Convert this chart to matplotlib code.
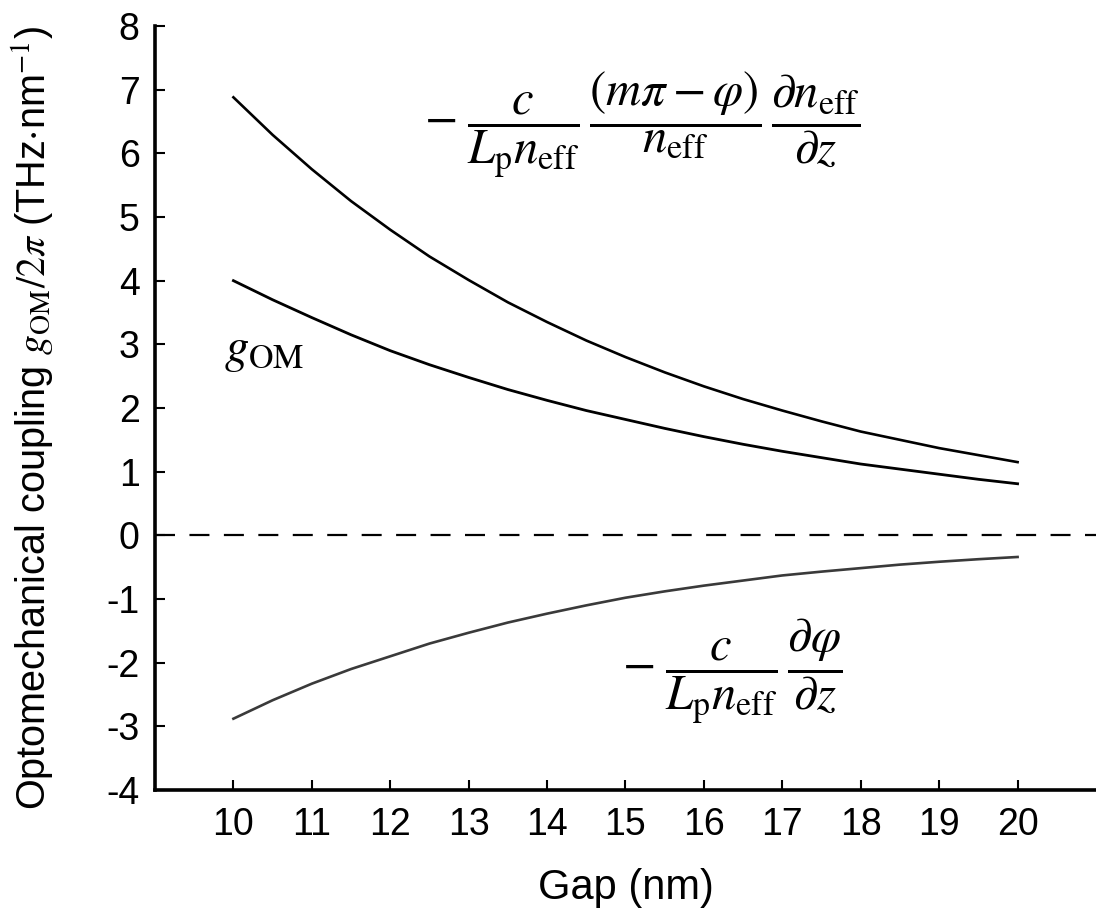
import matplotlib
matplotlib.use("Agg")
import matplotlib.pyplot as plt

plt.rcParams['font.family'] = ['Liberation Sans', 'DejaVu Sans']
plt.rcParams['mathtext.fontset'] = 'stix'
plt.rcParams['axes.unicode_minus'] = False

# gap values (nm)
gap = [10, 10.5, 11, 11.5, 12, 12.5, 13, 13.5, 14, 14.5, 15,
       15.5, 16, 16.5, 17, 17.5, 18, 18.5, 19, 19.5, 20]

# moving-boundary term
g_mb = [6.88, 6.29, 5.75, 5.25, 4.80, 4.38, 4.01, 3.66, 3.35, 3.06, 2.80,
        2.56, 2.34, 2.14, 1.96, 1.79, 1.63, 1.50, 1.37, 1.26, 1.15]

# total coupling g_OM
g_om = [4.00, 3.70, 3.42, 3.15, 2.90, 2.68, 2.48, 2.29, 2.12, 1.96, 1.82,
        1.68, 1.55, 1.43, 1.32, 1.22, 1.12, 1.04, 0.96, 0.88, 0.81]

# phase term
g_ph = [-2.88, -2.59, -2.33, -2.10, -1.90, -1.70, -1.53, -1.37, -1.23, -1.10, -0.98,
        -0.88, -0.79, -0.71, -0.63, -0.57, -0.515, -0.46, -0.415, -0.375, -0.34]

xticks = list(range(10, 21))
yticks = list(range(-4, 9))

fig = plt.figure(figsize=(10.96, 9.22), dpi=100)
ax = fig.add_axes([155 / 1096, 132 / 922, 941 / 1096, 764 / 922])

ax.plot(gap, g_mb, color='black', lw=1.9)
ax.plot(gap, g_om, color='black', lw=2.0)
ax.plot(gap, g_ph, color='#3a3a3a', lw=1.9)
ax.axhline(0, color='black', lw=1.6, dashes=(9, 6.5))

ax.set_xlim(9, 21)
ax.set_ylim(-4, 8)
ax.set_xticks(xticks)
ax.set_yticks(yticks)

for side in ['top', 'right']:
    ax.spines[side].set_visible(False)
for side in ['left', 'bottom']:
    ax.spines[side].set_linewidth(2.6)

ax.tick_params(direction='in', length=7, width=1.5, labelsize=27)
ax.tick_params(axis='x', pad=12)
ax.tick_params(axis='y', pad=11)

ax.set_xlabel('Gap (nm)', fontsize=30, labelpad=18)
ax.set_ylabel(r'Optomechanical coupling $g_\mathrm{OM}/2\pi$ (THz$\cdot$nm$^{-1}$)',
              fontsize=28.5)
ax.yaxis.set_label_coords(-0.106, 0.487)

ax.text(0.5175, 0.870,
        r'$-\;\dfrac{c}{L_\mathrm{p}n_\mathrm{eff}}\,\dfrac{(m\pi-\varphi)}{n_\mathrm{eff}}\,'
        r'\dfrac{\partial n_\mathrm{eff}}{\partial z}$',
        transform=ax.transAxes, fontsize=35, ha='center', va='center')
ax.text(0.614, 0.154,
        r'$-\;\dfrac{c}{L_\mathrm{p}n_\mathrm{eff}}\,\dfrac{\partial\varphi}{\partial z}$',
        transform=ax.transAxes, fontsize=35, ha='center', va='center')
ax.text(0.073, 0.574, r'$g_\mathrm{OM}$', transform=ax.transAxes,
        fontsize=35, ha='left', va='center')

fig.savefig('out.png', dpi=100, facecolor='white')
